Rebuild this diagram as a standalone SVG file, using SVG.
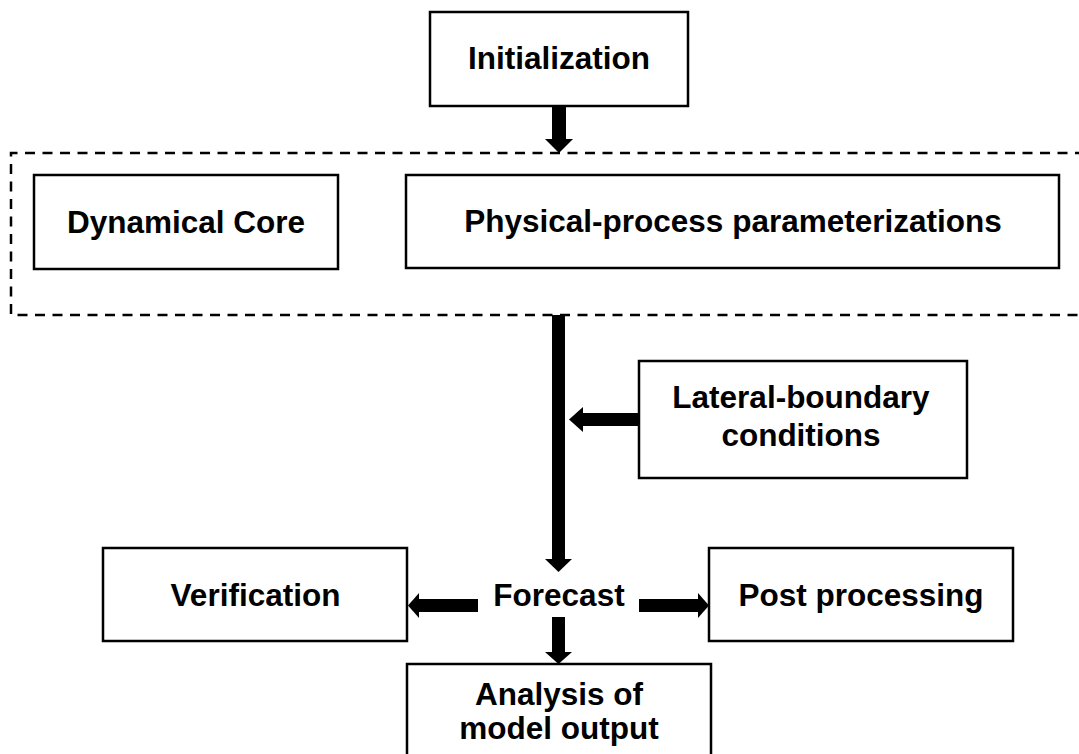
<svg xmlns="http://www.w3.org/2000/svg" width="1079" height="754" viewBox="0 0 1079 754">
  <style>
    .box { fill: #ffffff; stroke: #000000; stroke-width: 2.5; }
    .frame { fill: none; stroke: #000000; stroke-width: 2.5; stroke-dasharray: 10 7.5; }
    .lbl { font-family: "Liberation Sans", Arial, sans-serif; font-weight: bold; font-size: 31.5px; fill: #000000; text-anchor: middle; }
    .arrow { fill: #000000; stroke: none; }
  </style>
  <rect width="1079" height="754" fill="#ffffff"/>

  <!-- dashed model frame -->
  <g id="model-frame">
    <path class="frame" d="M1085,153 H11 V315 H1085"/>
  </g>

  <g id="initialization">
    <rect class="box" x="430" y="12" width="258" height="94"/>
    <text class="lbl" x="559" y="69">Initialization</text>
  </g>

  <g id="dynamical-core">
    <rect class="box" x="34" y="175" width="304" height="94"/>
    <text class="lbl" x="186" y="233">Dynamical Core</text>
  </g>

  <g id="physics">
    <rect class="box" x="406" y="175" width="653" height="93"/>
    <text class="lbl" x="733" y="232">Physical-process parameterizations</text>
  </g>

  <g id="lateral-boundary">
    <rect class="box" x="639" y="361" width="328" height="117"/>
    <text class="lbl" x="801" y="408">Lateral-boundary</text>
    <text class="lbl" x="801" y="446">conditions</text>
  </g>

  <g id="forecast">
    <text class="lbl" x="559" y="606">Forecast</text>
  </g>

  <g id="verification">
    <rect class="box" x="103" y="548" width="304" height="93"/>
    <text class="lbl" x="255.5" y="606">Verification</text>
  </g>

  <g id="post-processing">
    <rect class="box" x="709" y="548" width="304" height="93"/>
    <text class="lbl" x="861" y="606">Post processing</text>
  </g>

  <g id="analysis">
    <rect class="box" x="407" y="664" width="304" height="100"/>
    <text class="lbl" x="559" y="705">Analysis of</text>
    <text class="lbl" x="559" y="739">model output</text>
  </g>

  <!-- block arrows -->
  <g id="connectors">
    <!-- initialization to model -->
    <rect class="arrow" x="552" y="106" width="14" height="33"/>
    <polygon class="arrow" points="545,139 573,139 559,153"/>
    <!-- model to forecast -->
    <rect class="arrow" x="552" y="315" width="13" height="244"/>
    <polygon class="arrow" points="545,559 572,559 558.5,572"/>
    <!-- boundary conditions into the run -->
    <rect class="arrow" x="582" y="413" width="57" height="13"/>
    <polygon class="arrow" points="583,407 583,432 569,419.5"/>
    <!-- forecast to verification -->
    <rect class="arrow" x="418" y="599" width="60" height="13"/>
    <polygon class="arrow" points="419,593 419,618 408,605.5"/>
    <!-- forecast to post processing -->
    <rect class="arrow" x="639" y="599" width="60" height="13"/>
    <polygon class="arrow" points="698,593 698,618 709,605.5"/>
    <!-- forecast to analysis -->
    <rect class="arrow" x="552" y="617" width="13" height="36"/>
    <polygon class="arrow" points="545,652 572,652 558.5,664"/>
  </g>
</svg>
